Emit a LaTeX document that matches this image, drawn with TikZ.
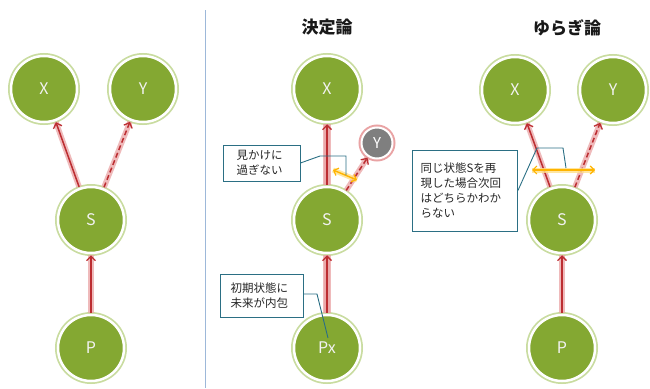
\documentclass[tikz,border=0pt]{standalone}
\usepackage{fontspec}
\setmainfont{Noto Sans CJK JP}
\usetikzlibrary{arrows.meta}
\definecolor{nodegreen}{HTML}{84A832}
\definecolor{glowgreen}{HTML}{C9DCA0}
\definecolor{arrowred}{HTML}{BC2D31}
\definecolor{glowred}{HTML}{E9A3A4}
\definecolor{orangeA}{HTML}{FFB400}
\definecolor{orangeG}{HTML}{FFE08A}
\definecolor{calloutblue}{HTML}{2B6F84}
\definecolor{divider}{HTML}{9DB8D9}
\definecolor{greynode}{HTML}{7F7F7F}
\tikzset{
  gnode/.style={circle, fill=nodegreen, draw=white, line width=2.5pt, minimum size=66pt, inner sep=0pt,
    text=white!95!black, font=\fontsize{16}{16}\selectfont,
    preaction={draw=glowgreen, line width=6pt}},
  ynode/.style={circle, fill=greynode, draw=white, line width=2pt, minimum size=31pt, inner sep=0pt,
    text=white, font=\fontsize{15}{15}\selectfont,
    preaction={draw=glowred, line width=6pt}},
  redarrow/.style={draw=arrowred, line width=1.5pt, -{Straight Barb[length=4.5pt,width=9pt,line width=1.3pt]},
    shorten <=1pt, shorten >=1pt,
    preaction={draw=glowred, solid, line width=5.5pt, opacity=0.75, -}},
  orarrow/.style={draw=orangeA, line width=1.4pt, {Straight Barb[length=4pt,width=8pt,line width=1.2pt]}-{Straight Barb[length=4pt,width=8pt,line width=1.2pt]},
    preaction={draw=orangeG, line width=5pt, opacity=0.8, -}},
  callout/.style={draw=calloutblue, line width=0.9pt, fill=white, align=left, inner sep=0pt,
    font=\fontsize{11.5}{15}\selectfont, text=black!85},
  pointer/.style={draw=calloutblue, line width=0.9pt},
  title/.style={font=\fontsize{17}{17}\selectfont\bfseries, text=black!90}
}
\begin{document}
\begin{tikzpicture}[x=1pt,y=-1pt]
\useasboundingbox (0,0) rectangle (650,388);
% divider
\draw[divider, line width=1pt] (205,10) -- (205,388);
% titles
\node[title] (t1) at (327,27) {決定論};
\node[title] (t2) at (567,28) {ゆらぎ論};

% left panel
\node[gnode] (X1) at (44,89) {X};
\node[gnode] (Y1) at (143,89) {Y};
\node[gnode] (S1) at (91,220) {S};
\node[gnode] (P1) at (91,348) {P};
\draw[redarrow] (S1) -- (X1);
\draw[redarrow, dash pattern=on 5pt off 3pt] (S1) -- (Y1);
\draw[redarrow] (P1) -- (S1);

% middle panel
\node[gnode] (X2) at (327,89) {X};
\node[gnode] (S2) at (327,220) {S};
\node[gnode] (P2) at (327,348) {Px};
\node[ynode] (Y2) at (377,143) {Y};
\draw[redarrow, preaction={draw=glowred, line width=8pt, opacity=0.75, -}] (S2) -- (X2);
\draw[redarrow, dash pattern=on 5pt off 3pt] (S2) -- (Y2);
\draw[redarrow, preaction={draw=glowred, line width=8pt, opacity=0.75, -}] (P2) -- (S2);
\coordinate (oa1) at (333,170);
\coordinate (ob1) at (357,180);
\draw[orarrow] (oa1) -- (ob1);
% callout 1
\node[callout, minimum width=77pt, minimum height=36pt, text width=50pt] (c1) at (261.5,163) {見かけに\\過ぎない};
\coordinate (p1a) at (320,156);
\coordinate (p1b) at (346,156);
\coordinate (p1c) at (346,175);
\draw[pointer] (c1.east) -- (p1a) -- (p1b) -- (p1c);
% callout 2
\node[callout, minimum width=83pt, minimum height=43pt, text width=62pt] (c2) at (261.5,295.5) {初期状態に\\未来が内包};
\coordinate (p2a) at (317,294);
\coordinate (p2b) at (328,338);
\draw[pointer] (c2.east) ++(0,-1.5) -- (p2a) -- (p2b);

% right panel
\node[gnode] (X3) at (515,90) {X};
\node[gnode] (Y3) at (613,90) {Y};
\node[gnode] (S3) at (562,220) {S};
\node[gnode] (P3) at (562,348) {P};
\draw[redarrow] (S3) -- (X3);
\draw[redarrow, dash pattern=on 5pt off 3pt] (S3) -- (Y3);
\draw[redarrow] (P3) -- (S3);
\coordinate (oa3) at (532,170);
\coordinate (ob3) at (595,170);
\draw[orarrow] (oa3) -- (ob3);
% callout 3
\node[callout, minimum width=105pt, minimum height=81pt, text width=89pt] (c3) at (465,190.5) {同じ状態Sを再\\現した場合次回\\はどちらかわか\\らない};
\coordinate (p3a) at (537,148);
\coordinate (p3b) at (563,148);
\coordinate (p3c) at (566,168);
\draw[pointer] (c3.east) -- (p3a) -- (p3b) -- (p3c);
\end{tikzpicture}
\end{document}
